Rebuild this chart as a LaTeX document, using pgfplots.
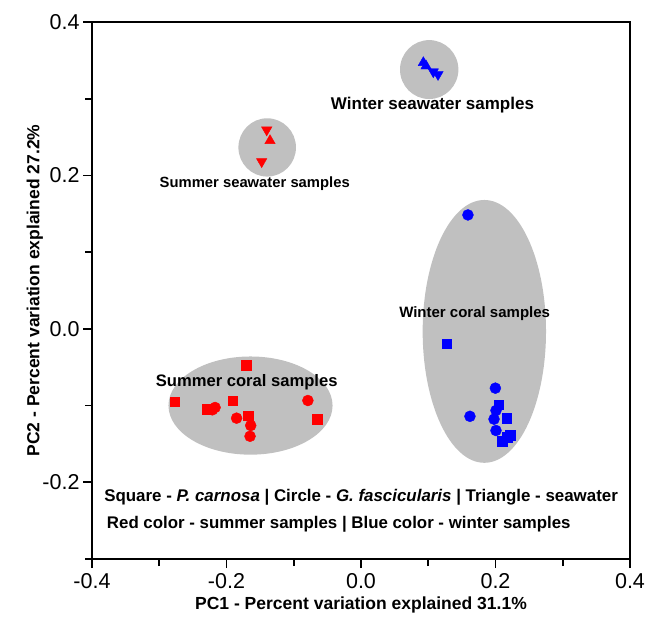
\documentclass[border=0pt]{standalone}
\usepackage{pgfplots}
\pgfplotsset{compat=1.18}
\usepackage{fontspec}
\setmainfont{Liberation Sans}
\definecolor{ellgray}{HTML}{C0C0C0}
\begin{document}
\begin{tikzpicture}
\begin{axis}[
  scale only axis,
  width=538pt, height=537pt,
  xmin=-0.4, xmax=0.4, ymin=-0.3, ymax=0.4,
  xtick={-0.4,-0.2,0,0.2,0.4},
  ytick={-0.2,0,0.2,0.4},
  minor xtick={-0.3,-0.1,0.1,0.3},
  minor ytick={-0.3,-0.1,0.1,0.3},
  xtick pos=bottom, ytick pos=left,
  tick align=outside,
  major tick length=9pt, minor tick length=7pt,
  axis line style={line width=1.6pt},
  every tick/.style={line width=1.6pt, black},
  /pgf/number format/assume math mode=true,
  /pgf/number format/.cd, fixed, fixed zerofill, precision=1, /pgfplots/.cd,
  tick label style={font=\fontsize{21.5}{23}\selectfont},
  xticklabel style={yshift=-4pt, inner sep=1pt},
  xlabel={\bfseries PC1 - Percent variation explained 31.1\%},
  ylabel={\bfseries PC2 - Percent variation explained 27.2\%},
  label style={font=\fontsize{17.5}{19}\selectfont},
  xlabel style={at={(axis description cs:0.5,-0.086)}, anchor=center, inner sep=1pt},
  ylabel style={at={(axis description cs:-0.106,0.5)}, anchor=center},
  clip=false,
]
% grey groups
\fill[ellgray] (axis cs:-0.1643,-0.100) ellipse [x radius=0.122, y radius=0.064];
\fill[ellgray] (axis cs:0.1834,-0.0033) ellipse [x radius=0.0917, y radius=0.1713];
\fill[ellgray] (axis cs:-0.1395,0.2365) ellipse [x radius=0.0428, y radius=0.038];
\fill[ellgray] (axis cs:0.1014,0.338) ellipse [x radius=0.0434, y radius=0.0384];

% summer coral - squares (P. carnosa)
\addplot[only marks, mark=square*, mark size=4.8pt, color=red] coordinates {
 (-0.171,-0.047) (-0.277,-0.0947) (-0.229,-0.1046) (-0.191,-0.0934) (-0.168,-0.113) (-0.065,-0.1177)
};
% summer coral - circles (G. fascicularis)
\addplot[only marks, mark=*, mark size=5.5pt, color=red] coordinates {
 (-0.217,-0.1025) (-0.221,-0.1055) (-0.185,-0.1164) (-0.164,-0.126) (-0.165,-0.140) (-0.079,-0.0934)
};
% winter coral - squares
\addplot[only marks, mark=square*, mark size=4.8pt, color=blue] coordinates {
 (0.1274,-0.0195) (0.2047,-0.099) (0.2166,-0.1168) (0.2216,-0.1385) (0.2176,-0.141) (0.2097,-0.1468)
};
% winter coral - circles
\addplot[only marks, mark=*, mark size=5.5pt, color=blue] coordinates {
 (0.159,0.1485) (0.1998,-0.0773) (0.162,-0.114) (0.2007,-0.1064) (0.1978,-0.1177) (0.2007,-0.1325)
};
% seawater - triangles
\addplot[only marks, mark=triangle*, mark size=6pt, color=red] coordinates {
 (-0.1353,0.2453)
};
\addplot[only marks, mark=triangle*, mark size=6pt, color=red, mark options={rotate=180}] coordinates {
 (-0.1402,0.2593) (-0.1477,0.218)
};
\addplot[only marks, mark=triangle*, mark size=6pt, color=blue] coordinates {
 (0.0927,0.347) (0.0967,0.3426)
};
\addplot[only marks, mark=triangle*, mark size=6pt, color=blue, mark options={rotate=180}] coordinates {
 (0.1075,0.3352) (0.1145,0.3316)
};

% group labels
\begin{scope}[every node/.style={inner sep=0pt}]
\node[font=\bfseries\fontsize{17}{18}\selectfont] at (axis cs:0.1063,0.292) {Winter seawater samples};
\node[font=\bfseries\fontsize{14.8}{18}\selectfont] at (axis cs:-0.158,0.189) {Summer seawater samples};
\node[font=\bfseries\fontsize{15}{18}\selectfont] at (axis cs:0.169,0.0195) {Winter coral samples};
\node[font=\bfseries\fontsize{16.6}{18}\selectfont] at (axis cs:-0.170,-0.069) {Summer coral samples};
\node[font=\bfseries\fontsize{16.9}{18}\selectfont, anchor=west] at (axis cs:-0.382,-0.220) {Square - \textit{P. carnosa} | Circle - \textit{G. fascicularis} | Triangle - seawater};
\node[font=\bfseries\fontsize{16.85}{18}\selectfont, anchor=west] at (axis cs:-0.378,-0.255) {Red color - summer samples | Blue color - winter samples};
\end{scope}
\end{axis}
\pgfresetboundingbox
\path ([shift={(-92pt,-69pt)}]current axis.south west) rectangle ([shift={(27pt,22pt)}]current axis.north east);
\end{tikzpicture}
\end{document}
